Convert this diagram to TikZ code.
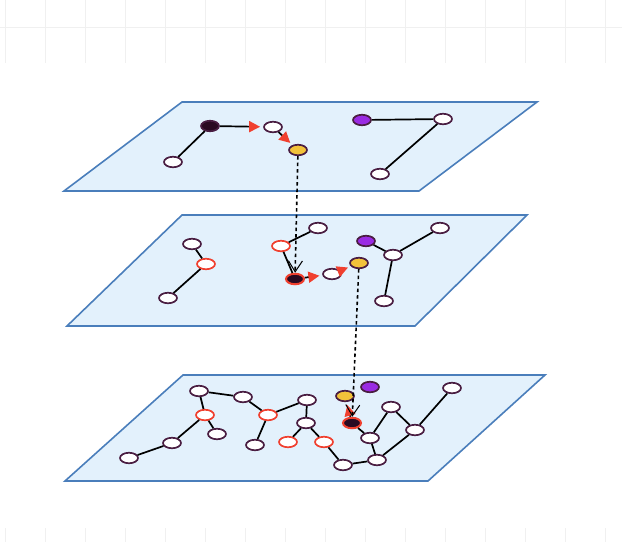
\documentclass[tikz,border=0pt]{standalone}
\usetikzlibrary{arrows.meta,shapes.geometric}
\definecolor{planefill}{HTML}{E3F1FC}
\definecolor{planeline}{HTML}{4A7EBB}
\definecolor{nodeline}{HTML}{4A1E42}
\definecolor{darkfill}{HTML}{2A0A22}
\definecolor{purplefill}{HTML}{9A2BE3}
\definecolor{yellowfill}{HTML}{F2C23A}
\definecolor{redline}{HTML}{F0402F}
\definecolor{gridline}{HTML}{F0F0F0}
\tikzset{
  plane/.style={draw=planeline, fill=planefill, line width=1.6pt, line join=miter},
  vtx/.style={ellipse, draw=nodeline, fill=white, line width=1.7pt, minimum width=18pt, minimum height=10.5pt, inner sep=0pt},
  redvtx/.style={vtx, draw=redline},
  darkvtx/.style={vtx, fill=darkfill},
  curvtx/.style={vtx, fill=darkfill, draw=redline, line width=2pt},
  purplevtx/.style={vtx, fill=purplefill},
  yellowvtx/.style={vtx, fill=yellowfill},
  edge/.style={black, line width=1.7pt},
  walk/.style={black, line width=1.7pt, -{Triangle[fill=redline, color=redline, length=11pt, width=11pt]}, shorten >=3pt},
  hop/.style={black, line width=1.6pt, dash pattern=on 3.5pt off 3pt, -{Straight Barb[length=11pt, width=14pt, line width=1pt]}},
  gridl/.style={gridline, line width=0.8pt}
}
\begin{document}
\begin{tikzpicture}[x=1pt, y=-1pt]
\useasboundingbox (0,0) rectangle (622,542);
% faint background grid
\foreach \gx in {5,45,...,605} {
  \draw[gridl] (\gx,0) -- (\gx,63);
  \draw[gridl] (\gx,528) -- (\gx,542);
}
\draw[gridl] (0,27) -- (622,27);

% planes
\draw[plane] (182,102) -- (537,102) -- (419,191) -- (64,191) -- cycle;
\draw[plane] (182,215) -- (527,215) -- (415,326) -- (67,326) -- cycle;
\draw[plane] (183,375) -- (545,375) -- (428,481) -- (65,481) -- cycle;

% ---- top layer ----
\node[darkvtx] (tA) at (210,126) {};
\node[vtx] (tB) at (173,162) {};
\node[vtx] (tC) at (273,127) {};
\node[yellowvtx] (tD) at (298,150) {};
\node[purplevtx] (tE) at (362,120) {};
\node[vtx] (tF) at (443,119) {};
\node[vtx] (tG) at (380,174) {};
\draw[edge] (tA) -- (tB);
\draw[walk] (tA) -- (tC);
\draw[walk] (tC) -- (tD);
\draw[edge] (tE) -- (tF);
\draw[edge] (tF) -- (tG);

% ---- middle layer ----
\node[vtx] (mH) at (192,244) {};
\node[redvtx] (mI) at (206,264) {};
\node[vtx] (mJ) at (168,298) {};
\node[redvtx] (mK) at (281,246) {};
\node[vtx] (mL) at (318,228) {};
\node[curvtx] (mM) at (295,279) {};
\node[vtx] (mN) at (332,274) {};
\node[yellowvtx] (mO) at (359,263) {};
\node[purplevtx] (mP) at (366,241) {};
\node[vtx] (mQ) at (393,255) {};
\node[vtx] (mR) at (440,228) {};
\node[vtx] (mS) at (384,301) {};
\draw[edge] (mH) -- (mI);
\draw[edge] (mI) -- (mJ);
\draw[edge] (mK) -- (mL);
\draw[edge] (mK) -- (mM);
\draw[walk] (mM) -- (mN);
\draw[walk] (mN) -- (mO);
\draw[edge] (mP) -- (mQ);
\draw[edge] (mQ) -- (mR);
\draw[edge] (mQ) -- (mS);

% ---- bottom layer ----
\node[vtx] (ba) at (199,391) {};
\node[vtx] (bb) at (243,397) {};
\node[redvtx] (bc) at (205,415) {};
\node[vtx] (bd) at (217,434) {};
\node[vtx] (be) at (172,443) {};
\node[vtx] (bf) at (129,458) {};
\node[redvtx] (bg) at (268,415) {};
\node[vtx] (bh) at (307,400) {};
\node[vtx] (bi) at (306,423) {};
\node[vtx] (bj) at (255,445) {};
\node[redvtx] (bk) at (288,442) {};
\node[redvtx] (bl) at (324,442) {};
\node[yellowvtx] (by) at (345,396) {};
\node[purplevtx] (bp) at (370,387) {};
\node[curvtx] (bM) at (352,423) {};
\node[vtx] (bm) at (370,438) {};
\node[vtx] (bn) at (391,407) {};
\node[vtx] (bo) at (415,430) {};
\node[vtx] (bq) at (452,388) {};
\node[vtx] (br) at (343,465) {};
\node[vtx] (bs) at (377,460) {};
\draw[edge] (bf) -- (be);
\draw[edge] (be) -- (bc);
\draw[edge] (bc) -- (ba);
\draw[edge] (bc) -- (bd);
\draw[edge] (ba) -- (bb);
\draw[edge] (bb) -- (bg);
\draw[edge] (bg) -- (bh);
\draw[edge] (bg) -- (bj);
\draw[edge] (bh) -- (bi);
\draw[edge] (bi) -- (bk);
\draw[edge] (bi) -- (bl);
\draw[edge] (bl) -- (br);
\draw[edge] (br) -- (bs);
\draw[edge] (bs) -- (bm);
\draw[edge] (bM) -- (bm);
\draw[edge] (bm) -- (bn);
\draw[edge] (bn) -- (bo);
\draw[edge] (bo) -- (bs);
\draw[edge] (bo) -- (bq);
\draw[walk] (bM) -- (by);

% ---- inter-layer hops ----
\draw[hop] (tD) -- (mM);
\draw[hop] (mO) -- (bM);
\end{tikzpicture}
\end{document}
